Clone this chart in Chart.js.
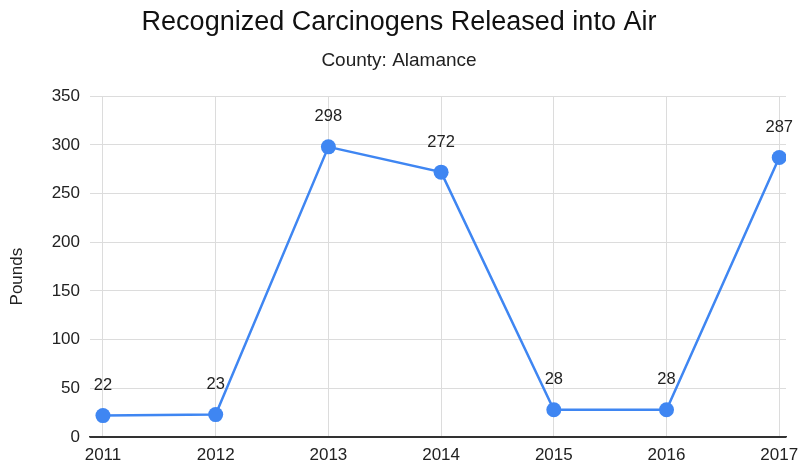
<!DOCTYPE html>
<html>
<head>
<meta charset="utf-8">
<script src="https://cdn.jsdelivr.net/npm/chart.js@4.4.1/dist/chart.umd.min.js"></script>
<style>
  html, body { margin: 0; padding: 0; background: #fff; }
  #wrap { width: 798px; height: 466px; position: relative; }
</style>
</head>
<body>
<div id="wrap"><canvas id="chart"></canvas></div>
<script>
// Yearly releases of recognized carcinogens to air, Alamance County
const years = [2011, 2012, 2013, 2014, 2015, 2016, 2017];
const pounds = [22, 23, 298, 272, 28, 28, 287];
const yTicks = [0, 50, 100, 150, 200, 250, 300, 350];
const yAxisTitle = 'Pounds';

const lineColor = '#3f86f2';
const textColor = '#222';
const fontFamily = '"Liberation Sans", Arial, sans-serif';

// Write each point's value above its marker
const valueLabels = {
  id: 'valueLabels',
  afterDatasetsDraw(chart) {
    const { ctx } = chart;
    const meta = chart.getDatasetMeta(0);
    ctx.save();
    ctx.font = '16.5px ' + fontFamily;
    ctx.fillStyle = textColor;
    ctx.textAlign = 'center';
    ctx.textBaseline = 'middle';
    meta.data.forEach((pt, i) => {
      ctx.fillText(String(pounds[i]), pt.x, pt.y - 30);
    });
    ctx.restore();
  }
};

// Rotated y-axis caption in the left margin, a little below the plot's middle
const yCaption = {
  id: 'yCaption',
  afterDraw(chart) {
    const { ctx, chartArea } = chart;
    const cy = (chartArea.top + chartArea.bottom) / 2 + 10;
    ctx.save();
    ctx.translate(17, cy);
    ctx.rotate(-Math.PI / 2);
    ctx.font = '17px ' + fontFamily;
    ctx.fillStyle = textColor;
    ctx.textAlign = 'center';
    ctx.textBaseline = 'middle';
    ctx.fillText(yAxisTitle, 0, 0);
    ctx.restore();
  }
};

new Chart(document.getElementById('chart'), {
  type: 'line',
  data: {
    datasets: [{
      data: years.map((y, i) => ({ x: y, y: pounds[i] })),
      borderColor: lineColor,
      backgroundColor: lineColor,
      borderWidth: 2.5,
      pointRadius: 7.5,
      pointHoverRadius: 7.5,
      pointBackgroundColor: lineColor,
      pointBorderWidth: 0,
      tension: 0
    }]
  },
  options: {
    responsive: true,
    maintainAspectRatio: false,
    animation: false,
    layout: { padding: { left: 0, right: 0, top: 0, bottom: 3 } },
    plugins: {
      legend: { display: false },
      tooltip: { enabled: false },
      title: {
        display: true,
        text: 'Recognized Carcinogens Released into Air',
        color: '#111',
        font: { family: fontFamily, size: 27, weight: 'normal' },
        padding: { top: 6, bottom: 11 }
      },
      subtitle: {
        display: true,
        text: 'County: Alamance',
        color: textColor,
        font: { family: fontFamily, size: 19, weight: 'normal' },
        padding: { top: 0, bottom: 24 }
      }
    },
    scales: {
      x: {
        type: 'linear',
        min: 2010.885,
        max: 2017.06,
        afterBuildTicks(scale) {
          scale.ticks = years.map(v => ({ value: v }));
        },
        afterFit(scale) {
          scale.height = 26;
          scale.paddingLeft = 0;
          scale.paddingRight = 12;
        },
        ticks: {
          color: textColor,
          font: { family: fontFamily, size: 17 },
          padding: 8,
          maxRotation: 0,
          autoSkip: false,
          callback: v => String(v)
        },
        grid: { color: '#dcdcdc', lineWidth: 1, drawTicks: false },
        border: { display: true, color: '#333', width: 1.5 }
      },
      y: {
        min: 0,
        max: 350,
        afterBuildTicks(scale) {
          scale.ticks = yTicks.map(v => ({ value: v }));
        },
        afterFit(scale) {
          scale.width = 90;
          scale.paddingTop = 0;
          scale.paddingBottom = 0;
        },
        ticks: {
          color: textColor,
          font: { family: fontFamily, size: 17 },
          padding: 10
        },
        grid: {
          color: c => c.tick && c.tick.value === 0 ? '#333' : '#dcdcdc',
          lineWidth: 1,
          drawTicks: false
        },
        border: { display: false }
      }
    }
  },
  plugins: [valueLabels, yCaption]
});
</script>
</body>
</html>
